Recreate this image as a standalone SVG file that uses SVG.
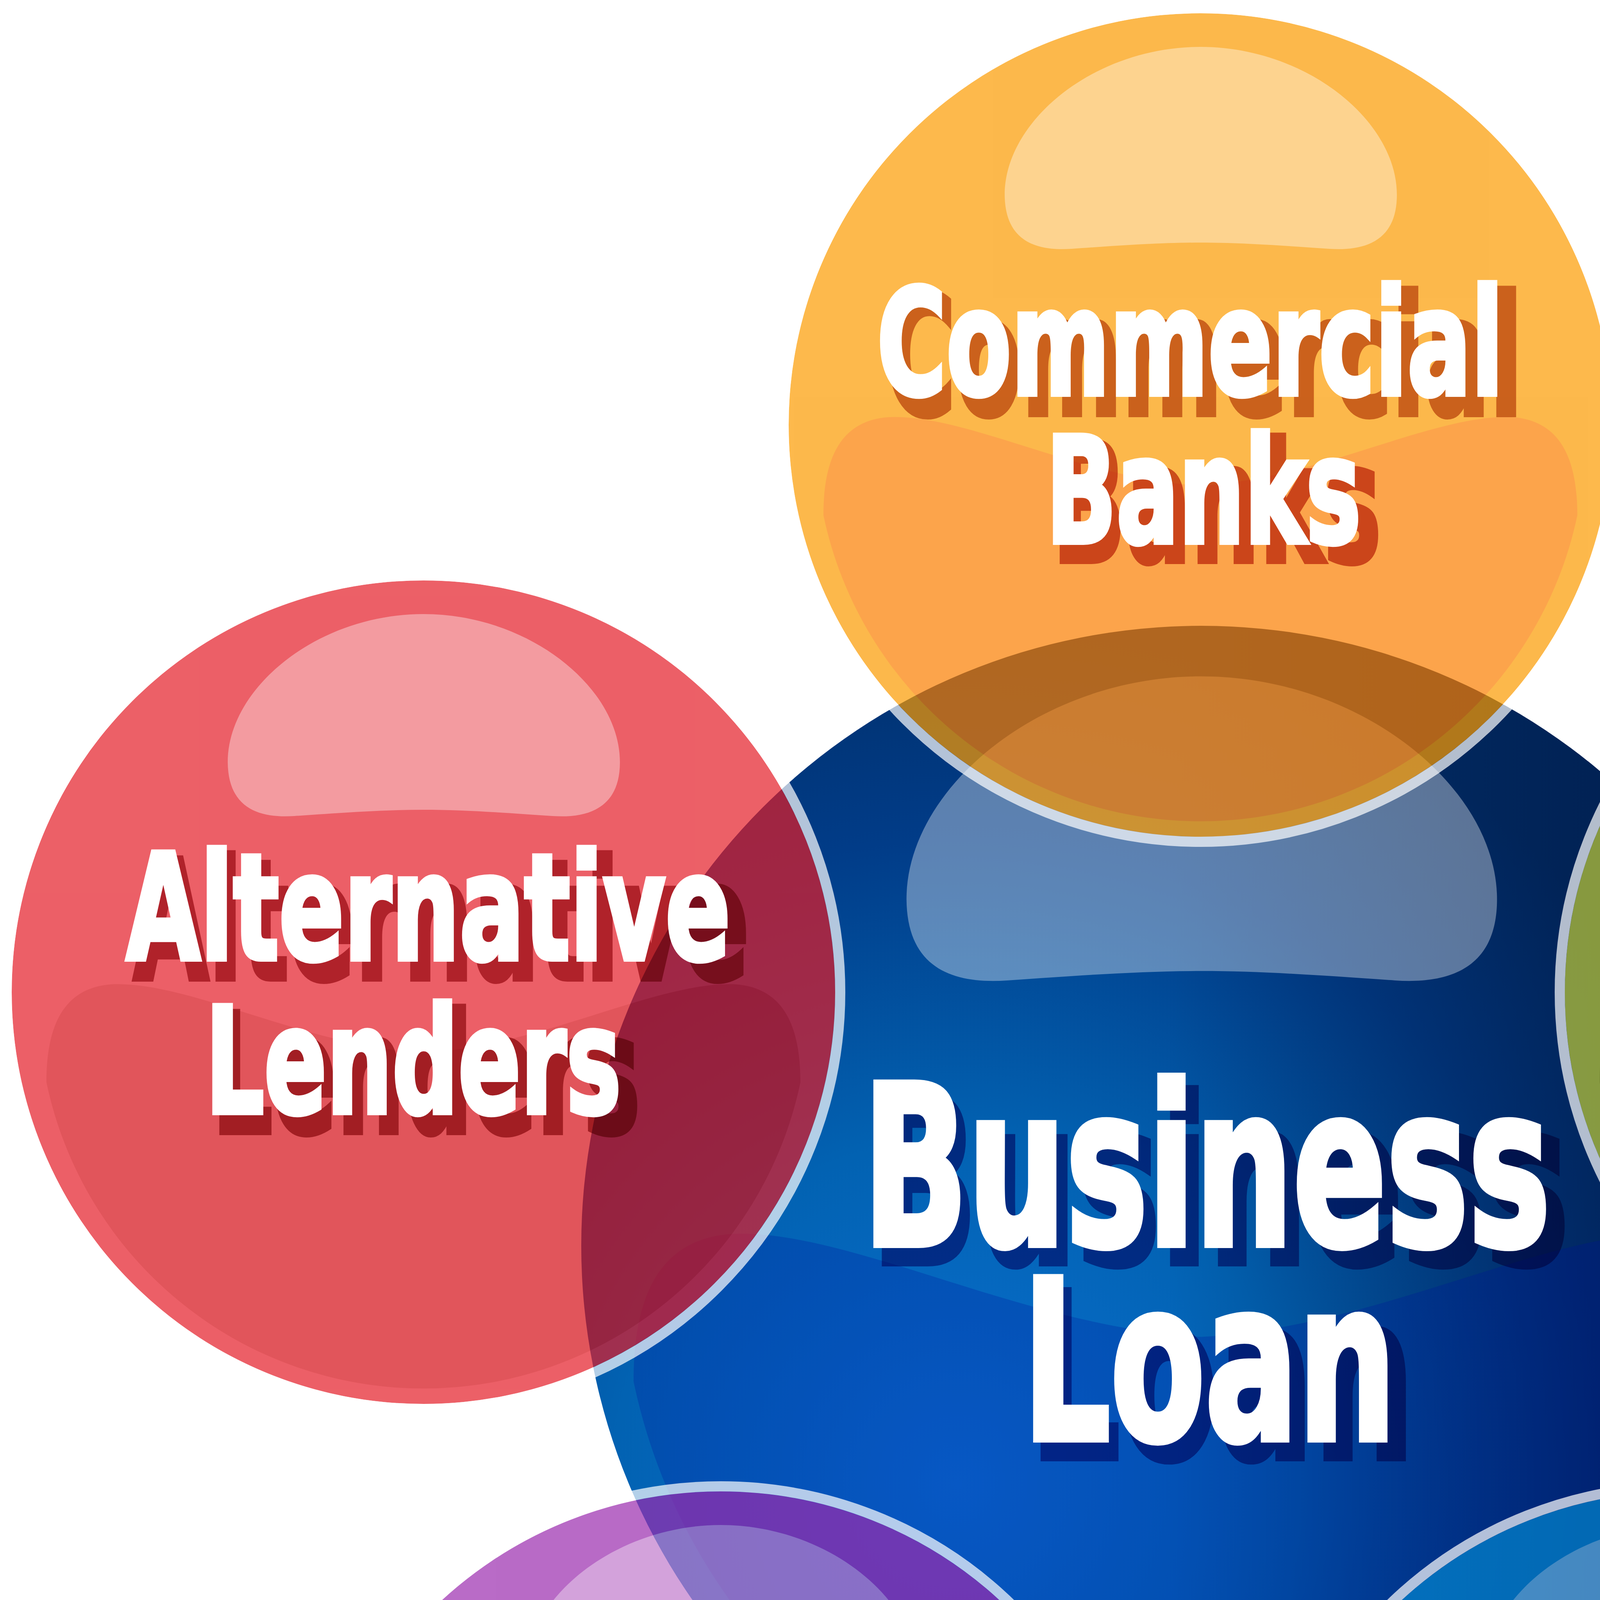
<svg xmlns="http://www.w3.org/2000/svg" width="6148" height="5971" viewBox="0 0 6148 5971">
<style>
.lbl{font-family:"Liberation Sans Narrow","DejaVu Sans Condensed","Liberation Sans",sans-serif;font-weight:700;stroke-linejoin:miter;stroke-miterlimit:3;}
.w{fill:#ffffff;stroke:#ffffff;stroke-width:12;}
.sh{mix-blend-mode:multiply;stroke-width:12;}
.s{font-size:378px;}
.ss{font-size:427px;}
.c{font-size:570px;}
.cs{font-size:590px;}
.c.w{stroke-width:16;}
.cs.sh{stroke-width:16;}
.ring{fill:none;stroke:#ffffff;stroke-opacity:0.7;stroke-width:26;}
.hl{fill:#ffffff;fill-opacity:0.38;}
</style>
<defs>
<radialGradient id="gC" gradientUnits="userSpaceOnUse" cx="2450" cy="3800" r="2200">
<stop offset="0" stop-color="#0a70d2"/>
<stop offset="0.4" stop-color="#0262b2"/>
<stop offset="0.75" stop-color="#013c88"/>
<stop offset="1" stop-color="#01306c"/>
</radialGradient>
<linearGradient id="gDark" gradientUnits="userSpaceOnUse" x1="3000" y1="0" x2="4670" y2="0">
<stop offset="0" stop-color="#000c30" stop-opacity="0"/>
<stop offset="1" stop-color="#000c30" stop-opacity="0.6"/>
</linearGradient>
<path id="blob" d="M -965,231 C -965,100 -930,-10 -800,-20 C -600,-30 -300,140 0,155 C 300,140 600,-30 800,-20 C 930,-10 965,100 965,231 A 986 986 0 0 1 -965,231 Z"/>
<path id="hlp" d="M -330,-451 C -420,-445 -500,-470 -501,-589 C -501,-780 -270,-968 0,-968 C 270,-968 503,-780 503,-589 C 503,-470 420,-445 330,-451 C 200,-460 100,-467 0,-467 C -100,-467 -200,-460 -330,-451 Z"/>
</defs>
<rect width="6148" height="5971" fill="#ffffff"/>

<g id="node-business-loan">
<circle cx="3075" cy="3189" r="1587" fill="url(#gC)"/>
<circle cx="3075" cy="3189" r="1587" fill="url(#gDark)"/>
<g transform="translate(3075,3189) scale(1.5057)">
<use href="#blob" fill="#00109a" fill-opacity="0.25"/>
<use href="#hlp" fill="#ffffff" fill-opacity="0.36"/>
</g>
<text class="lbl cs sh" x="2230" y="3234" textLength="1787" lengthAdjust="spacingAndGlyphs" fill="#3a6cb5" stroke="#3a6cb5">Business</text>
<text class="lbl c w" x="2209" y="3187" textLength="1760" lengthAdjust="spacingAndGlyphs">Business</text>
<text class="lbl cs sh" x="2636" y="3733" textLength="986" lengthAdjust="spacingAndGlyphs" fill="#3a6cb5" stroke="#3a6cb5">Loan</text>
<text class="lbl c w" x="2618" y="3685" textLength="956" lengthAdjust="spacingAndGlyphs">Loan</text>
</g>

<g id="node-commercial-banks">
<g transform="translate(3073,1088)">
<g opacity="0.7">
<circle r="1054" fill="#fc9b00"/>
<use href="#blob" fill="#fb7e00"/>
<use href="#hlp" class="hl"/>
</g>
<circle r="1067" class="ring"/>
</g>
<text class="lbl ss sh" x="2266" y="1062" textLength="1632" lengthAdjust="spacingAndGlyphs" fill="#cd865d" stroke="#cd865d">Commercial</text>
<text class="lbl s w" x="2245" y="1010" textLength="1604" lengthAdjust="spacingAndGlyphs">Commercial</text>
<text class="lbl ss sh" x="2694" y="1438" textLength="842" lengthAdjust="spacingAndGlyphs" fill="#ce6b57" stroke="#ce6b57">Banks</text>
<text class="lbl s w" x="2678" y="1389" textLength="806" lengthAdjust="spacingAndGlyphs">Banks</text>
</g>

<g id="node-alternative-lenders">
<g transform="translate(1084,2540)">
<g opacity="0.7">
<circle r="1054" fill="#e41c27"/>
<use href="#blob" fill="#d50e16"/>
<use href="#hlp" class="hl"/>
</g>
<circle r="1067" class="ring"/>
</g>
<text class="lbl ss sh" x="341" y="2507" textLength="1577" lengthAdjust="spacingAndGlyphs" fill="#be5a67" stroke="#be5a67">Alternative</text>
<text class="lbl s w" x="323" y="2456" textLength="1547" lengthAdjust="spacingAndGlyphs">Alternative</text>
<text class="lbl ss sh" x="543" y="2900" textLength="1096" lengthAdjust="spacingAndGlyphs" fill="#b85a62" stroke="#b85a62">Lenders</text>
<text class="lbl s w" x="526" y="2849" textLength="1064" lengthAdjust="spacingAndGlyphs">Lenders</text>
</g>

<g id="node-non-bank-lender">
<g transform="translate(5060,2540)">
<g opacity="0.7">
<circle r="1054" fill="#c0cc36"/>
<use href="#blob" fill="#a8b224"/>
<use href="#hlp" class="hl"/>
</g>
<circle r="1067" class="ring"/>
</g>
<text class="lbl ss sh" x="4406" y="2505" textLength="1451" lengthAdjust="spacingAndGlyphs" fill="#a8ac5e" stroke="#a8ac5e">Non-Bank</text>
<text class="lbl s w" x="4392" y="2456" textLength="1405" lengthAdjust="spacingAndGlyphs">Non-Bank</text>
<text class="lbl ss sh" x="4607" y="2900" textLength="975" lengthAdjust="spacingAndGlyphs" fill="#919b64" stroke="#919b64">Lender</text>
<text class="lbl s w" x="4592" y="2849" textLength="940" lengthAdjust="spacingAndGlyphs">Lender</text>
</g>

<g id="node-micro-lenders">
<g transform="translate(1845,4872)">
<g opacity="0.7">
<circle r="1054" fill="#9b2caf"/>
<use href="#blob" fill="#741c90"/>
<use href="#hlp" class="hl"/>
</g>
<circle r="1067" class="ring"/>
</g>
<text class="lbl ss sh" x="1507" y="4873" textLength="773" lengthAdjust="spacingAndGlyphs" fill="#835392" stroke="#835392">Micro</text>
<text class="lbl s w" x="1492" y="4822" textLength="736" lengthAdjust="spacingAndGlyphs">Micro</text>
<text class="lbl ss sh" x="1350" y="5218" textLength="1096" lengthAdjust="spacingAndGlyphs" fill="#66527f" stroke="#66527f">Lenders</text>
<text class="lbl s w" x="1334" y="5167" textLength="1067" lengthAdjust="spacingAndGlyphs">Lenders</text>
</g>

<g id="node-region-specific-lenders">
<g transform="translate(4302,4872)">
<g opacity="0.7">
<circle r="1054" fill="#0487d0"/>
<use href="#blob" fill="#0254ba"/>
<use href="#hlp" class="hl"/>
</g>
<circle r="1067" class="ring"/>
</g>
<text class="lbl ss sh" x="3882" y="4678" textLength="973" lengthAdjust="spacingAndGlyphs" fill="#6170b3" stroke="#6170b3">Region</text>
<text class="lbl s w" x="3867" y="4627" textLength="939" lengthAdjust="spacingAndGlyphs">Region</text>
<text class="lbl ss sh" x="3801" y="5037" textLength="1076" lengthAdjust="spacingAndGlyphs" fill="#616aac" stroke="#616aac">Specific</text>
<text class="lbl s w" x="3787" y="4986" textLength="1041" lengthAdjust="spacingAndGlyphs">Specific</text>
<text class="lbl ss sh" x="3819" y="5431" textLength="1094" lengthAdjust="spacingAndGlyphs" fill="#6264a5" stroke="#6264a5">Lenders</text>
<text class="lbl s w" x="3801" y="5380" textLength="1064" lengthAdjust="spacingAndGlyphs">Lenders</text>
</g>
</svg>
